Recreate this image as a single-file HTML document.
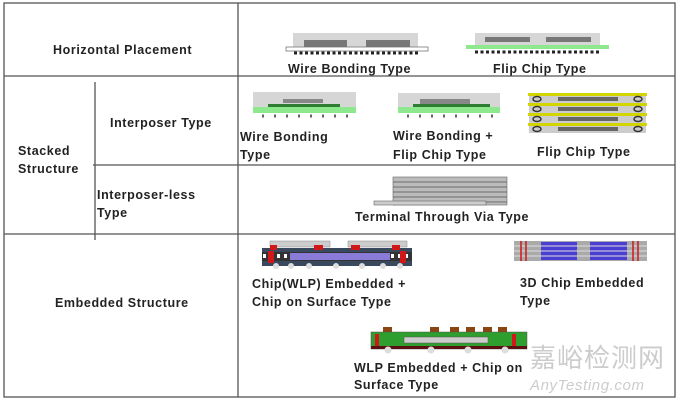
<!DOCTYPE html><html><head><meta charset="utf-8"><style>body{margin:0;background:#fff}svg{display:block}text{font-family:"Liberation Sans",sans-serif;font-weight:bold;font-size:12.5px;fill:#222;letter-spacing:0.6px}</style></head><body>
<svg width="680" height="400" viewBox="0 0 680 400">
<g stroke="#555" stroke-width="1.3" fill="none">
<rect x="4" y="3" width="671" height="394"/>
<line x1="238" y1="3" x2="238" y2="397"/>
<line x1="4" y1="76" x2="675" y2="76"/>
<line x1="4" y1="234" x2="675" y2="234"/>
<line x1="93" y1="165" x2="675" y2="165"/>
<line x1="95" y1="82" x2="95" y2="240"/>
</g>
<text x="53" y="54">Horizontal Placement</text>
<text x="110" y="127">Interposer Type</text>
<text x="18" y="155">Stacked</text><text x="18" y="173">Structure</text>
<text x="97" y="199">Interposer-less</text><text x="97" y="217">Type</text>
<text x="55" y="307">Embedded Structure</text>
<rect x="293" y="33" width="125" height="17" fill="#d6d6d6"/>
<rect x="304" y="40" width="43" height="7" fill="#777"/><rect x="366" y="40" width="44" height="7" fill="#777"/>
<rect x="286" y="47" width="142" height="4" fill="#fff" stroke="#777" stroke-width="0.8"/>
<line x1="294" y1="53" x2="418" y2="53" stroke="#222" stroke-width="3" stroke-dasharray="3,2.5"/>
<text x="288" y="73">Wire Bonding Type</text>
<rect x="475" y="33" width="125" height="15" fill="#d6d6d6"/>
<rect x="485" y="37" width="45" height="5" fill="#777"/><rect x="546" y="37" width="45" height="5" fill="#777"/>
<rect x="466" y="45" width="143" height="4" fill="#8ee88e"/>
<line x1="475" y1="52" x2="600" y2="52" stroke="#222" stroke-width="3" stroke-dasharray="3,2.5"/>
<text x="493" y="73">Flip Chip Type</text>
<rect x="253" y="92" width="103" height="16" fill="#d6d6d6"/>
<rect x="283" y="99" width="40" height="4" fill="#888"/>
<rect x="268" y="104" width="72" height="3" fill="#2e7d32"/>
<rect x="253" y="107" width="103" height="6" fill="#8ee88e"/>
<line x1="262" y1="116" x2="350" y2="116" stroke="#666" stroke-width="3" stroke-dasharray="2,10"/>
<text x="240" y="141">Wire Bonding</text><text x="240" y="159">Type</text>
<rect x="398" y="93" width="102" height="16" fill="#d6d6d6"/>
<rect x="420" y="99" width="50" height="5" fill="#888"/>
<rect x="413" y="104" width="77" height="3" fill="#2e7d32"/>
<rect x="398" y="107" width="102" height="6" fill="#8ee88e"/>
<line x1="407" y1="116" x2="495" y2="116" stroke="#666" stroke-width="3" stroke-dasharray="2,10"/>
<text x="393" y="140">Wire Bonding +</text><text x="393" y="159">Flip Chip Type</text>
<g>
<rect x="529" y="95" width="117" height="38" fill="#ccc"/>
<rect x="528" y="93" width="119" height="3" fill="#d4d400"/><rect x="528" y="103" width="119" height="3" fill="#d4d400"/>
<rect x="528" y="113" width="119" height="3" fill="#d4d400"/><rect x="528" y="123" width="119" height="3" fill="#d4d400"/>
<g fill="#666"><rect x="558" y="97" width="60" height="4"/><rect x="558" y="107" width="60" height="4"/><rect x="558" y="117" width="60" height="4"/><rect x="558" y="127" width="60" height="4"/></g>
<g fill="none" stroke="#333" stroke-width="1.5"><ellipse cx="537" cy="99" rx="4" ry="2.5"/><ellipse cx="537" cy="109" rx="4" ry="2.5"/><ellipse cx="537" cy="119" rx="4" ry="2.5"/><ellipse cx="537" cy="129" rx="4" ry="2.5"/>
<ellipse cx="638" cy="99" rx="4" ry="2.5"/><ellipse cx="638" cy="109" rx="4" ry="2.5"/><ellipse cx="638" cy="119" rx="4" ry="2.5"/><ellipse cx="638" cy="129" rx="4" ry="2.5"/></g>
</g>
<text x="537" y="156">Flip Chip Type</text>
<rect x="393" y="177" width="114" height="28" fill="#bbb" stroke="#666" stroke-width="0.6"/>
<g stroke="#555" stroke-width="0.7"><line x1="393" y1="182" x2="507" y2="182"/><line x1="393" y1="187" x2="507" y2="187"/><line x1="393" y1="192" x2="507" y2="192"/><line x1="393" y1="197" x2="507" y2="197"/><line x1="393" y1="202" x2="507" y2="202"/></g>
<rect x="374" y="201" width="112" height="4" fill="#ccc" stroke="#666" stroke-width="0.6"/>
<text x="355" y="221">Terminal Through Via Type</text>
<!-- embedded 1 -->
<rect x="270" y="241" width="60" height="6" fill="#ccc" stroke="#888" stroke-width="0.5"/><rect x="348" y="241" width="59" height="6" fill="#ccc" stroke="#888" stroke-width="0.5"/>
<rect x="262" y="248" width="150" height="18" fill="#3a4a5e"/>
<rect x="262" y="252" width="150" height="9" fill="#333"/>
<rect x="290" y="253" width="100" height="7" fill="#8a7bd8"/>
<line x1="263" y1="256" x2="289" y2="256" stroke="#fff" stroke-width="4" stroke-dasharray="3,4"/>
<line x1="391" y1="256" x2="411" y2="256" stroke="#fff" stroke-width="4" stroke-dasharray="3,4"/>
<g fill="#d01818"><rect x="270" y="245" width="7" height="5"/><rect x="314" y="245" width="9" height="5"/><rect x="351" y="245" width="9" height="5"/><rect x="392" y="245" width="8" height="5"/><rect x="268" y="251" width="6" height="12"/><rect x="400" y="251" width="6" height="12"/></g>
<g fill="#ddd"><circle cx="276" cy="266" r="3"/><circle cx="291" cy="266" r="3"/><circle cx="309" cy="266" r="3"/><circle cx="336" cy="266" r="3"/><circle cx="362" cy="266" r="3"/><circle cx="383" cy="266" r="3"/><circle cx="400" cy="266" r="3"/></g>
<text x="252" y="288">Chip(WLP) Embedded +</text><text x="252" y="306">Chip on Surface Type</text>
<rect x="514" y="241" width="133" height="20" fill="#aaa"/>
<rect x="541" y="242" width="36" height="18" fill="#4a3fd0"/><rect x="590" y="242" width="37" height="18" fill="#4a3fd0"/>
<g stroke="#ddd" stroke-width="1"><line x1="514" y1="246" x2="647" y2="246"/><line x1="514" y1="251" x2="647" y2="251"/><line x1="514" y1="256" x2="647" y2="256"/></g>
<g stroke="#d01818" stroke-width="1.5"><line x1="521" y1="241" x2="521" y2="261"/><line x1="526" y1="241" x2="526" y2="261"/><line x1="633" y1="241" x2="633" y2="261"/><line x1="638" y1="241" x2="638" y2="261"/></g>
<text x="520" y="287">3D Chip Embedded</text><text x="520" y="305">Type</text>
<g fill="#8b4513"><rect x="383" y="327" width="9" height="6"/><rect x="430" y="327" width="9" height="6"/><rect x="450" y="327" width="9" height="6"/><rect x="466" y="327" width="9" height="6"/><rect x="483" y="327" width="9" height="6"/><rect x="498" y="327" width="9" height="6"/></g>
<rect x="371" y="332" width="156" height="17" fill="#2e9e2e" stroke="#555" stroke-width="0.5"/>
<rect x="404" y="337" width="84" height="6" fill="#ccc" stroke="#555" stroke-width="0.5"/>
<rect x="375" y="334" width="4" height="14" fill="#d01818"/><rect x="512" y="334" width="4" height="14" fill="#d01818"/>
<rect x="371" y="346" width="156" height="3" fill="#5a1010"/>
<g fill="#ddd"><circle cx="388" cy="350" r="3.5"/><circle cx="431" cy="350" r="3.5"/><circle cx="468" cy="350" r="3.5"/><circle cx="505" cy="350" r="3.5"/></g>
<text x="354" y="372">WLP Embedded + Chip on</text><text x="354" y="389">Surface Type</text>
<text x="530" y="367" style="font-size:26px;fill:#ccc;font-weight:normal;letter-spacing:1px;font-family:'Liberation Sans','Noto Sans CJK SC',sans-serif">嘉峪检测网</text>
<text x="530" y="390" style="font-size:15px;fill:#ccc;font-style:italic;font-weight:normal">AnyTesting.com</text>
</svg></body></html>
